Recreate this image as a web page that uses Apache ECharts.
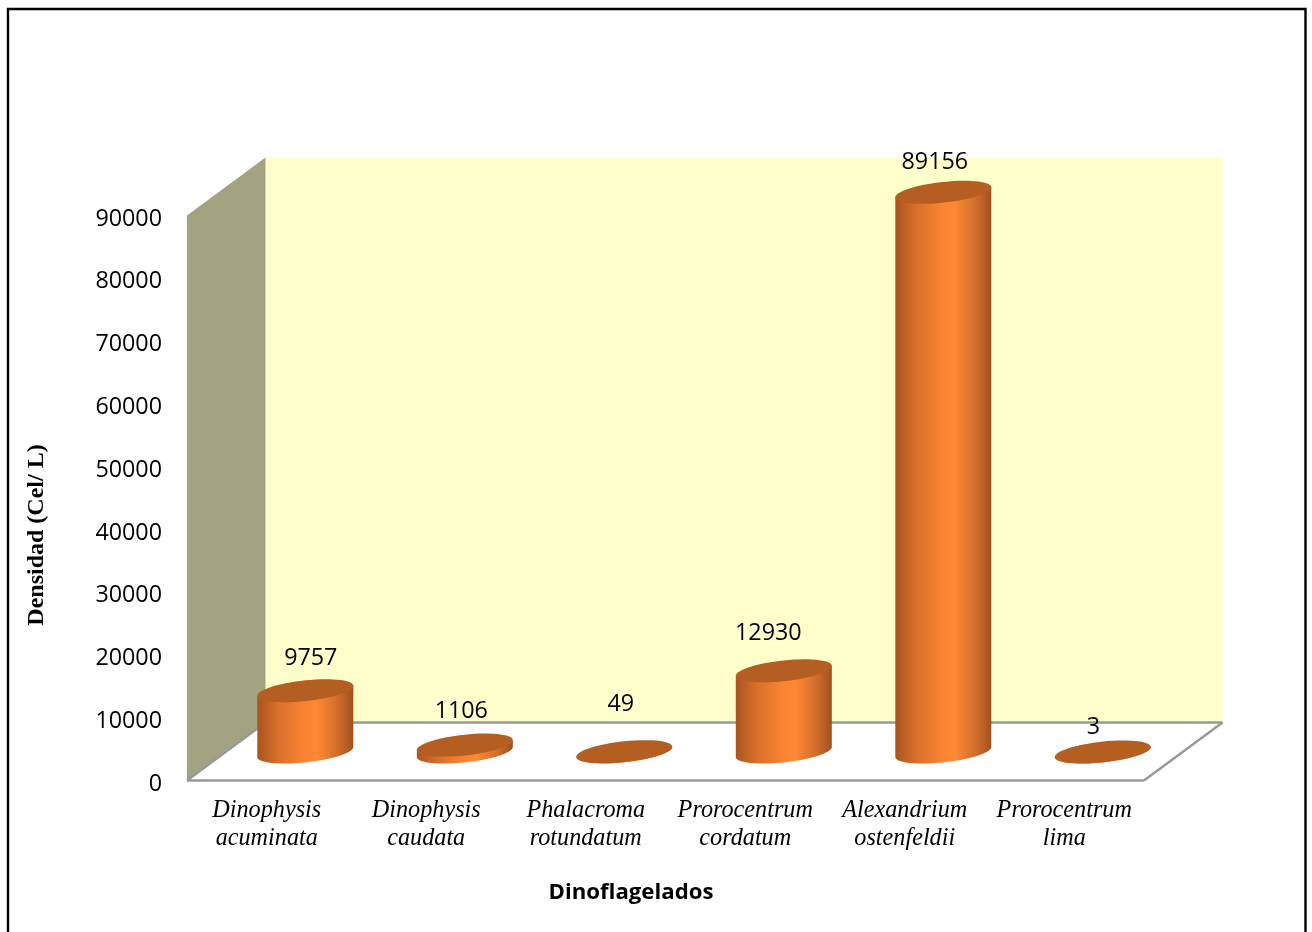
<!DOCTYPE html>
<html>
<head>
<meta charset="utf-8">
<style>html,body{margin:0;padding:0;background:#fff}#c{width:1312px;height:932px}</style>
<script src="https://cdn.jsdelivr.net/npm/echarts@6/dist/echarts.min.js"></script>
</head>
<body>
<div id="c"></div>
<script>
const categories = ['Dinophysis\nacuminata','Dinophysis\ncaudata','Phalacroma\nrotundatum','Prorocentrum\ncordatum','Alexandrium\nostenfeldii','Prorocentrum\nlima'];
const densities = [9757, 1106, 49, 12930, 89156, 3];
const yTitle = 'Densidad (Cel/ L)';
const xTitle = 'Dinoflagelados';

// layout of the 3D box and hand placement of the value labels
const DEPTH_X = 78.5, DEPTH_Y = 58, RX = 48, RY = 10.4, TILT = 5;
const labelNudgeX = [5.5, -3.5, -3.5, -15.5, -8.5, -9.5];
const labelNudgeY = [-32, -34, -47, -37, -30, -25];

const TOP_COLOR = '#b55e22';
const bodyGradient = new echarts.graphic.LinearGradient(0, 0, 1, 0, [
  {offset: 0, color: '#a9541f'},
  {offset: 0.22, color: '#d9702a'},
  {offset: 0.5, color: '#fb8432'},
  {offset: 0.62, color: '#ff8833'},
  {offset: 0.85, color: '#cf6c2b'},
  {offset: 1, color: '#a0501e'}
]);

function ellipsePoints(cx, cy, from, to) {
  const pts = [];
  for (let i = 0; i <= 60; i++) {
    const t = from + (to - from) * i / 60;
    pts.push([cx + RX * Math.cos(t), cy - TILT * Math.cos(t) + RY * Math.sin(t)]);
  }
  return pts;
}

function renderBox(params, api) {
  const r = params.coordSys;
  const x0 = r.x, x1 = r.x + r.width, yb = r.y + r.height, yt = r.y;
  const dx = DEPTH_X, dy = DEPTH_Y;
  const poly = (points, style, z2) => ({type: 'polygon', z2: z2 || 0, shape: {points}, style});
  const line = (a, b) => ({type: 'line', z2: 2, shape: {x1: a[0], y1: a[1], x2: b[0], y2: b[1]}, style: {stroke: '#999999', lineWidth: 2.4}});
  return {type: 'group', children: [
    poly([[x0 + dx - 2, yt - dy], [x1 + dx, yt - dy], [x1 + dx, yb - dy], [x0 + dx - 2, yb - dy]], {fill: '#ffffcc'}),
    poly([[x0, yt], [x0 + dx, yt - dy], [x0 + dx, yb - dy], [x0, yb]], {fill: '#a3a381'}, 1),
    line([x0 + dx, yb - dy], [x1 + dx, yb - dy]),
    line([x0, yb], [x0 + dx, yb - dy]),
    line([x1, yb], [x1 + dx, yb - dy]),
    line([x0, yb], [x1, yb])
  ]};
}

function renderCylinder(params, api) {
  const i = api.value(0);
  const v = api.value(1);
  const base = api.coord([i, 0]);
  const top = api.coord([i, v]);
  const cx = base[0] + DEPTH_X / 2 - 0.7;
  const by = base[1] - DEPTH_Y / 2 + 0.5;
  const ty = top[1] - DEPTH_Y / 2 + 0.5;
  const body = [[cx - RX, ty + TILT], [cx + RX, ty - TILT]].concat(ellipsePoints(cx, by, 0, Math.PI));
  return {type: 'group', children: [
    {type: 'polygon', shape: {points: body}, style: {fill: bodyGradient}},
    {type: 'polygon', shape: {points: ellipsePoints(cx, ty, 0, Math.PI * 2)}, style: {fill: TOP_COLOR}},
    {type: 'text', x: cx + labelNudgeX[params.dataIndex], y: ty + labelNudgeY[params.dataIndex], z2: 5,
     style: {text: String(v), fill: '#000', font: '23.3px "Open Sans"', align: 'center', verticalAlign: 'middle'}}
  ]};
}

const chart = echarts.init(document.getElementById('c'), null, {renderer: 'canvas'});
chart.setOption({
  animation: false,
  backgroundColor: '#ffffff',
  grid: {left: 187, right: 168, top: 215.5, bottom: 151.5, containLabel: false},
  xAxis: {
    type: 'category', data: categories, boundaryGap: true,
    axisLine: {show: false}, axisTick: {show: false}, splitLine: {show: false},
    axisLabel: {interval: 0, margin: 16, lineHeight: 28, fontFamily: '"Liberation Serif"', fontStyle: 'italic', fontSize: 24.2, color: '#000', align: 'center'}
  },
  yAxis: {
    type: 'value', min: 0, max: 90000, interval: 10000,
    axisLine: {show: false}, axisTick: {show: false}, splitLine: {show: false},
    axisLabel: {margin: 25, fontFamily: '"Open Sans"', fontSize: 23.3, color: '#000', verticalAlign: 'top', lineHeight: 7, formatter: v => String(v)}
  },
  graphic: [
    {type: 'polyline', shape: {points: [[8, 932], [8, 9], [1305.5, 9], [1305.5, 932]]}, style: {fill: 'none', stroke: '#000', lineWidth: 2.4}},
    {type: 'text', x: 37, y: 535, rotation: Math.PI / 2, style: {text: yTitle, fill: '#000', font: 'bold 24px "Liberation Serif"', align: 'center', verticalAlign: 'middle'}},
    {type: 'text', x: 631, y: 892.5, style: {text: xTitle, fill: '#000', font: 'bold 22.2px "Open Sans"', align: 'center', verticalAlign: 'middle'}}
  ],
  series: [
    {type: 'custom', coordinateSystem: 'cartesian2d', z: 1, silent: true, data: [0], encode: {x: -1, y: -1}, renderItem: renderBox},
    {type: 'custom', coordinateSystem: 'cartesian2d', z: 3, silent: true,
     data: densities.map((v, i) => [i, v]), encode: {x: 0, y: 1}, renderItem: renderCylinder}
  ]
});
</script>
</body>
</html>
